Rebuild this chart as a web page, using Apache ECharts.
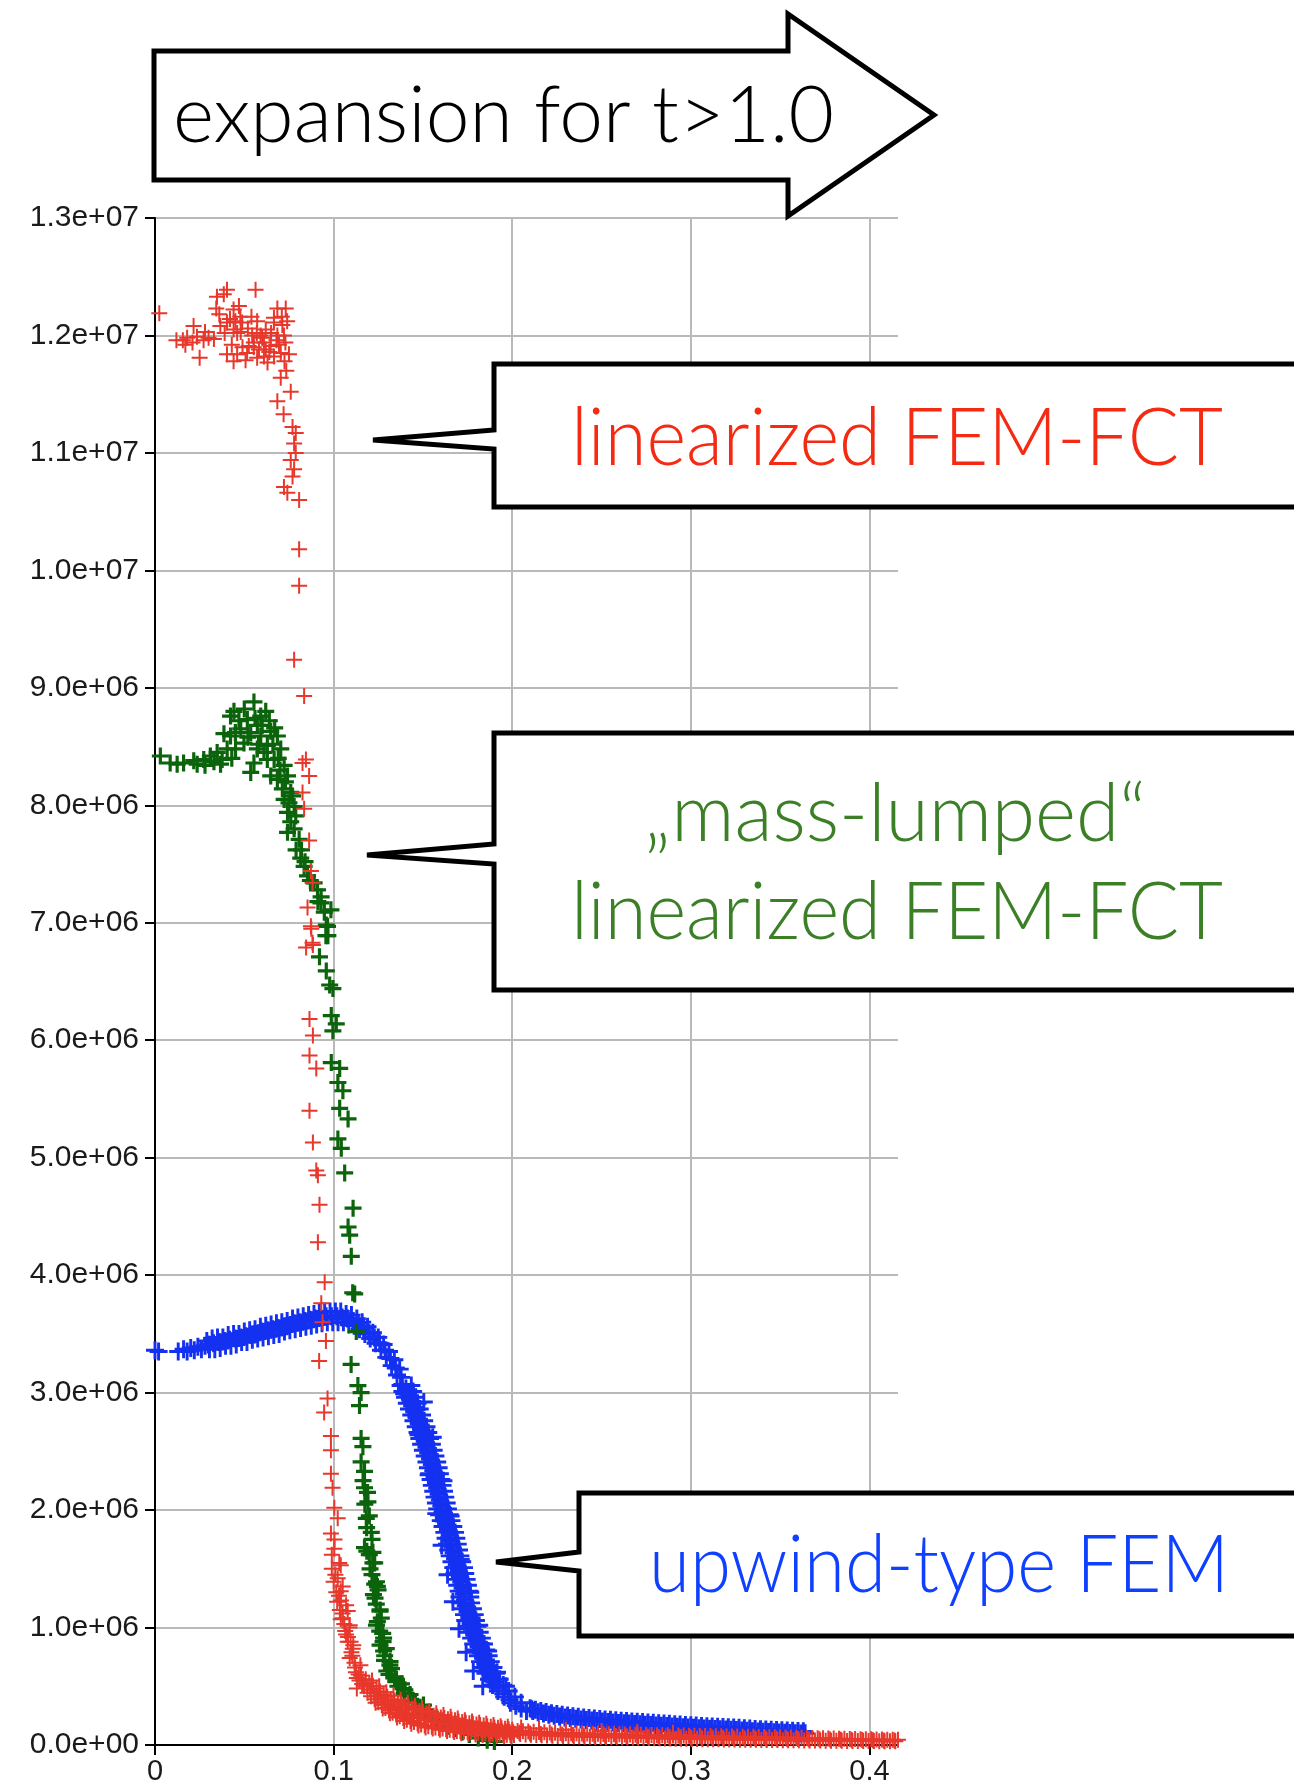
<!DOCTYPE html>
<html><head><meta charset="utf-8">
<script src="https://cdn.jsdelivr.net/npm/echarts@6/dist/echarts.min.js"></script>
<style>html,body{margin:0;padding:0;background:#fff}#c{width:1294px;height:1786px}</style>
</head><body><div id="c"></div>
<script>
// ---------- tick labels ----------
const xTickLabels = ['0', '0.1', '0.2', '0.3', '0.4'];
const yTickLabels = ['0.0e+00','1.0e+06','2.0e+06','3.0e+06','4.0e+06','5.0e+06','6.0e+06',
  '7.0e+06','8.0e+06','9.0e+06','1.0e+07','1.1e+07','1.2e+07','1.3e+07'];

// ---------- annotation texts ----------
const headerText = 'expansion for t>1.0';
const calloutRed = 'linearized FEM-FCT';
const calloutGreen = ['„mass-lumped“', 'linearized FEM-FCT'];
const calloutBlue = 'upwind-type FEM';

// y values below are in units of 10^6
const MEGA = 1e6;

// ---------- upwind-type FEM (blue) ----------
const upwindFEM = [
[0,3.36],[0.002,3.35],[0.013,3.35],[0.016,3.37],[0.018,3.35],[0.020,3.38],[0.022,3.36],[0.024,3.39],[0.026,3.37],[0.028,3.40],
[0.029,3.44],[0.0305,3.37],[0.0298,3.41],[0.032,3.46],[0.0335,3.37],[0.0328,3.42],[0.035,3.47],[0.0365,3.38],[0.0358,3.43],
[0.038,3.47],[0.0395,3.40],[0.0388,3.44],[0.041,3.49],[0.0425,3.40],[0.0418,3.45],[0.044,3.50],[0.0455,3.41],[0.0448,3.46],
[0.047,3.50],[0.0485,3.43],[0.0478,3.47],[0.050,3.52],[0.0515,3.43],[0.0508,3.48],[0.053,3.53],[0.0545,3.45],[0.0538,3.49],
[0.056,3.54],[0.0575,3.46],[0.0568,3.50],[0.059,3.56],[0.0605,3.47],[0.0598,3.52],[0.062,3.57],[0.0635,3.48],[0.0628,3.53],
[0.065,3.58],[0.0665,3.49],[0.0658,3.54],[0.068,3.59],[0.0695,3.50],[0.0688,3.55],[0.071,3.60],[0.0725,3.52],[0.0718,3.56],
[0.074,3.61],[0.0755,3.53],[0.0748,3.57],[0.077,3.63],[0.0785,3.54],[0.0778,3.59],[0.080,3.64],[0.0815,3.55],[0.0808,3.60],
[0.083,3.65],[0.0845,3.56],[0.0838,3.61],[0.086,3.66],[0.0875,3.57],[0.0868,3.62],[0.089,3.67],[0.0905,3.58],[0.0898,3.63],
[0.092,3.68],[0.0935,3.59],[0.0928,3.64],[0.095,3.69],[0.0965,3.60],[0.0958,3.65],[0.098,3.69],[0.0995,3.60],[0.0988,3.65],
[0.101,3.69],[0.1025,3.60],[0.1018,3.65],[0.104,3.69],[0.1055,3.60],[0.1048,3.64],[0.107,3.67],[0.1085,3.58],[0.1078,3.63],
[0.110,3.66],[0.1115,3.57],[0.1108,3.61],[0.113,3.63],[0.1145,3.54],[0.1138,3.59],[0.116,3.60],[0.1175,3.50],[0.1168,3.55],
[0.119,3.56],[0.1205,3.46],[0.1198,3.51],[0.122,3.51],[0.1235,3.42],[0.1228,3.47],[0.125,3.47],[0.1265,3.36],[0.1258,3.42],
[0.128,3.41],[0.1295,3.30],[0.1288,3.36],[0.131,3.35],[0.1325,3.23],[0.1318,3.29],[0.134,3.28],[0.1355,3.15],[0.1348,3.21],
[0.137,3.20],[0.1385,3.07],[0.1378,3.13],
[0.1375,3.06],[0.1405,3.035],[0.1435,3.06],[0.1385,3.01],[0.1415,2.985],[0.1445,3.01],[0.140,2.96],[0.143,2.935],[0.146,2.96],
[0.141,2.91],[0.144,2.885],[0.147,2.91],[0.1422,2.86],[0.1452,2.835],[0.1482,2.86],[0.1435,2.81],[0.1465,2.785],[0.1495,2.81],
[0.1447,2.76],[0.1477,2.735],[0.1507,2.76],[0.146,2.71],[0.149,2.685],[0.152,2.71],[0.147,2.66],[0.150,2.635],[0.153,2.66],
[0.148,2.61],[0.151,2.585],[0.154,2.61],[0.149,2.56],[0.152,2.535],[0.155,2.56],[0.150,2.51],[0.153,2.485],[0.156,2.51],
[0.151,2.46],[0.154,2.435],[0.157,2.46],[0.152,2.41],[0.155,2.385],[0.158,2.41],[0.1528,2.36],[0.1558,2.335],[0.1588,2.36],
[0.1535,2.31],[0.1565,2.285],[0.1595,2.31],[0.1543,2.26],[0.1573,2.235],[0.1603,2.26],[0.155,2.21],[0.158,2.185],[0.161,2.21],
[0.1558,2.16],[0.1588,2.135],[0.1618,2.16],[0.1565,2.11],[0.1595,2.085],[0.1625,2.11],[0.1573,2.06],[0.1603,2.035],[0.1633,2.06],
[0.158,2.01],[0.161,1.985],[0.164,2.01],[0.159,1.96],[0.162,1.935],[0.165,1.96],[0.160,1.91],[0.163,1.885],[0.166,1.91],
[0.161,1.86],[0.164,1.835],[0.167,1.86],[0.162,1.81],[0.165,1.785],[0.168,1.81],[0.1627,1.76],[0.1657,1.735],[0.1687,1.76],
[0.1635,1.71],[0.1665,1.685],[0.1695,1.71],[0.1642,1.66],[0.1672,1.635],[0.1702,1.66],[0.165,1.61],[0.168,1.585],[0.171,1.61],
[0.166,1.56],[0.169,1.535],[0.172,1.56],[0.167,1.51],[0.170,1.485],[0.173,1.51],[0.1677,1.46],[0.1707,1.435],[0.1737,1.46],
[0.1685,1.41],[0.1715,1.385],[0.1745,1.41],[0.1692,1.36],[0.1722,1.335],[0.1752,1.36],[0.170,1.31],[0.173,1.285],[0.176,1.31],
[0.1705,1.26],[0.1735,1.235],[0.1765,1.26],[0.171,1.21],[0.174,1.185],[0.177,1.21],[0.172,1.16],[0.175,1.135],[0.178,1.16],
[0.173,1.11],[0.176,1.085],[0.179,1.11],[0.1737,1.06],[0.1767,1.035],[0.1797,1.06],[0.1745,1.01],[0.1775,0.985],[0.1805,1.01],
[0.1758,0.96],[0.1788,0.935],[0.1818,0.96],[0.177,0.91],[0.180,0.885],[0.183,0.91],[0.1782,0.86],[0.1812,0.835],[0.1842,0.86],
[0.1795,0.81],[0.1825,0.785],[0.1855,0.81],[0.1808,0.76],[0.1838,0.735],[0.1868,0.76],[0.182,0.71],[0.185,0.685],[0.188,0.71],
[0.1835,0.66],[0.1865,0.635],[0.1895,0.66],[0.185,0.61],[0.188,0.585],[0.191,0.61],[0.187,0.56],[0.190,0.535],[0.193,0.56],
[0.189,0.51],[0.192,0.485],[0.195,0.51],[0.192,0.46],[0.195,0.435],[0.198,0.46],[0.1955,0.41],[0.1985,0.385],[0.2015,0.41],
[0.199,0.36],[0.202,0.335],[0.205,0.36],[0.205,0.31],[0.208,0.29],[0.211,0.305],
[0.1395,2.99],[0.1475,2.64],[0.1532,2.30],[0.1575,1.97],[0.1605,1.70],[0.1638,1.45],[0.1668,1.22],[0.1702,0.99],[0.1742,0.79],
[0.1782,0.63],[0.1835,0.50],[0.1505,2.92],[0.1555,2.62],[0.1615,2.25],[0.1655,1.95],[0.1712,1.58],[0.1765,1.30],[0.1815,1.02],
[0.1865,0.80],[0.1915,0.62],[0.1965,0.50],
[0.210,0.312],[0.2115,0.290],[0.213,0.300],[0.2145,0.278],[0.216,0.290],[0.2175,0.268],[0.219,0.280],[0.2205,0.258],
[0.222,0.271],[0.2235,0.249],[0.225,0.264],[0.2265,0.242],[0.228,0.257],[0.2295,0.235],[0.231,0.251],[0.2325,0.229],
[0.234,0.245],[0.2355,0.223],[0.237,0.240],[0.2385,0.218],[0.240,0.235],[0.2415,0.213],[0.243,0.230],[0.2445,0.208],
[0.246,0.226],[0.2475,0.204],[0.249,0.222],[0.2505,0.200],[0.252,0.218],[0.2535,0.196],[0.255,0.214],[0.2565,0.192],
[0.258,0.210],[0.2595,0.188],[0.261,0.207],[0.2625,0.185],[0.264,0.204],[0.2655,0.182],[0.267,0.201],[0.2685,0.179],
[0.270,0.198],[0.2715,0.176],[0.273,0.195],[0.2745,0.173],[0.276,0.192],[0.2775,0.170],[0.279,0.189],[0.2805,0.167],
[0.282,0.186],[0.2835,0.164],[0.285,0.183],[0.2865,0.161],[0.288,0.180],[0.2895,0.158],[0.291,0.177],[0.2925,0.155],
[0.294,0.174],[0.2955,0.152],[0.297,0.171],[0.2985,0.149],[0.300,0.168],[0.3015,0.146],[0.303,0.165],[0.3045,0.143],
[0.306,0.162],[0.3075,0.140],[0.309,0.160],[0.3105,0.138],[0.312,0.158],[0.3135,0.136],[0.315,0.156],[0.3165,0.134],
[0.318,0.154],[0.3195,0.132],[0.321,0.152],[0.3225,0.130],[0.324,0.149],[0.3255,0.127],[0.327,0.146],[0.3285,0.124],
[0.330,0.143],[0.3315,0.121],[0.333,0.140],[0.3345,0.118],[0.336,0.137],[0.3375,0.115],[0.339,0.134],[0.3405,0.112],
[0.342,0.132],[0.3435,0.110],[0.345,0.130],[0.3465,0.108],[0.348,0.128],[0.3495,0.106],[0.351,0.126],[0.3525,0.104],
[0.354,0.124],[0.3555,0.102],[0.357,0.122],[0.3585,0.100],[0.360,0.119],[0.3615,0.097],[0.363,0.116],[0.364,0.100]
];

// ---------- "mass-lumped" linearized FEM-FCT (green) ----------
const massLumpedFCT = [
[0.003,8.42],[0.0085,8.36],[0.0124,8.35],[0.016,8.36],[0.0217,8.38],[0.0236,8.35],[0.0273,8.39],[0.028,8.34],[0.031,8.42],[0.033,8.37],
[0.0348,8.45],[0.0367,8.35],[0.0376,8.39],[0.0404,8.48],[0.043,8.40],[0.0423,8.59],[0.0386,8.61],[0.0423,8.76],[0.0442,8.80],
[0.045,8.62],[0.0451,8.48],[0.047,8.72],[0.048,8.65],[0.0498,8.53],[0.050,8.82],[0.0517,8.73],[0.052,8.58],[0.0536,8.62],
[0.0536,8.28],[0.0554,8.88],[0.0554,8.36],[0.056,8.74],[0.0573,8.68],[0.0573,8.48],[0.058,8.52],[0.0592,8.59],[0.0592,8.76],
[0.060,8.68],[0.061,8.45],[0.062,8.80],[0.0629,8.51],[0.0629,8.39],[0.064,8.72],[0.0648,8.63],[0.0648,8.25],[0.066,8.52],
[0.0667,8.39],[0.067,8.66],[0.0685,8.59],[0.0685,8.22],[0.069,8.40],[0.070,8.30],[0.0704,8.48],[0.0713,8.14],[0.0723,8.34],
[0.0723,8.05],[0.073,8.20],[0.0742,8.25],[0.0742,7.94],[0.0742,7.77],[0.075,8.02],[0.076,8.11],[0.076,7.86],[0.077,8.08],
[0.0779,7.99],[0.0779,7.80],[0.0788,7.91],[0.079,7.62],[0.0807,7.71],[0.0816,7.55],[0.082,7.62],[0.0835,7.48],[0.084,7.52],
[0.0854,7.40],[0.087,7.36],[0.0891,7.34],[0.091,7.28],[0.0912,7.18],[0.093,7.22],[0.0929,7.17],[0.0948,7.09],[0.0985,7.11],
[0.0959,6.98],[0.0966,6.97],[0.0957,6.89],[0.0968,6.89],[0.0921,6.71],[0.0959,6.59],[0.0978,6.47],[0.0996,6.44],[0.0987,6.21],
[0.1015,6.14],[0.0996,6.08],[0.0987,5.81],[0.1034,5.76],[0.1024,5.64],[0.1052,5.57],[0.1034,5.42],[0.1081,5.33],[0.1024,5.16],
[0.1043,5.08],[0.1062,4.87],[0.1109,4.57],[0.1081,4.41],[0.109,4.34],[0.1099,4.16],[0.1118,3.84],[0.1107,3.85],[0.1127,3.52],
[0.1098,3.24],[0.1136,3.06],[0.1154,3.00],[0.1145,2.89],[0.1154,2.61],[0.1164,2.54],[0.1154,2.41],[0.1173,2.33],[0.1173,2.19],
[0.1192,2.07],[0.1183,1.93],[0.1211,1.81],[0.1173,1.68],[0.122,1.64],[0.1186,1.65],[0.122,1.55],[0.1204,1.50],[0.124,1.39],
[0.123,1.37],[0.1249,1.32],[0.1223,1.28],[0.1239,1.20],[0.126,1.14],[0.1267,1.08],[0.124,1.02],[0.1258,0.97],[0.128,0.91],
[0.1277,0.88],[0.128,0.80],[0.1286,0.76],[0.1316,0.71],[0.1324,0.65],[0.1298,0.63],[0.1352,0.56],[0.135,0.54],[0.139,0.48],
[0.1399,0.47],[0.1428,0.43],[0.1456,0.36],[0.1503,0.34],
[0.1165,2.25],[0.119,2.15],[0.1175,2.05],[0.120,1.95],[0.1185,1.85],[0.1215,1.75],[0.120,1.62],[0.123,1.55],[0.1215,1.45],
[0.1245,1.35],[0.1232,1.25],[0.126,1.15],[0.1245,1.05],[0.1275,0.95],[0.126,0.85],[0.1295,0.82],[0.1285,0.72],[0.1315,0.68],
[0.131,0.60],[0.1345,0.58],[0.136,0.50],[0.138,0.52],[0.1395,0.44],[0.142,0.42],[0.1445,0.38],[0.147,0.33],[0.149,0.30],
[0.152,0.27],[0.155,0.24],[0.158,0.22],[0.161,0.19],[0.164,0.16],[0.168,0.14],[0.172,0.11],[0.176,0.09],[0.181,0.06],
[0.186,0.04],[0.19,0.03]
];

// ---------- linearized FEM-FCT (red) ----------
const linearizedFCT = [
[0.0024,12.19],[0.012,11.96],[0.0156,11.96],[0.017,11.92],[0.018,11.98],[0.021,11.94],[0.0216,12.08],[0.0235,11.99],[0.025,11.81],
[0.0272,11.96],[0.028,12.03],[0.030,11.98],[0.033,11.97],[0.0347,12.33],[0.0403,12.39],[0.0385,12.35],[0.0343,12.23],[0.036,12.18],
[0.0366,12.08],[0.039,12.02],[0.0403,12.11],[0.042,12.14],[0.044,12.22],[0.047,12.25],[0.044,12.05],[0.046,12.02],[0.043,11.92],
[0.0488,12.11],[0.048,12.03],[0.049,11.90],[0.0403,11.84],[0.044,11.78],[0.046,11.84],[0.0516,11.85],[0.052,12.06],[0.054,12.16],
[0.0525,11.91],[0.0563,12.39],[0.0553,11.94],[0.0572,12.12],[0.057,12.02],[0.0582,11.88],[0.060,11.98],[0.061,11.82],[0.062,12.05],
[0.063,11.77],[0.0591,12.00],[0.0544,12.00],[0.061,11.94],[0.064,11.86],[0.065,12.02],[0.0647,11.91],[0.0666,11.82],[0.0685,12.23],
[0.0732,12.23],[0.0666,12.11],[0.0713,12.09],[0.0685,12.00],[0.068,11.96],[0.0694,11.92],[0.0704,11.85],[0.071,12.16],[0.073,11.94],
[0.074,12.12],[0.075,11.84],[0.0666,12.15],[0.0722,12.00],[0.0478,12.16],[0.045,12.12],[0.0553,11.90],[0.0572,11.81],[0.0507,11.79],
[0.062,11.88],[0.0725,11.78],[0.0735,11.70],
[0.0704,11.64],[0.076,11.52],[0.0685,11.44],[0.072,11.33],[0.077,11.22],[0.0788,11.17],[0.0779,11.08],[0.0788,11.00],
[0.076,10.94],[0.0779,10.86],[0.077,10.80],[0.0722,10.71],[0.0741,10.66],[0.0807,10.60],[0.0807,10.18],[0.0807,9.87],
[0.0779,9.24],[0.0835,8.93],[0.0845,8.39],[0.0826,8.36],[0.0863,8.25],[0.0826,8.11],[0.0835,7.97],[0.0863,7.70],
[0.0873,7.44],[0.0882,7.34],[0.0854,7.13],[0.0873,6.97],[0.0882,6.83],[0.0875,6.95],[0.0846,6.79],[0.0884,6.81],
[0.0865,6.18],[0.0884,6.04],[0.0865,5.87],[0.0903,5.76],[0.0865,5.40],[0.0884,5.13],[0.0903,4.89],[0.0912,4.85],
[0.0921,4.60],[0.0912,4.28],[0.095,3.94],[0.0931,3.76],[0.0938,3.60],[0.0957,3.44],[0.0919,3.27],[0.0966,2.95],
[0.0947,2.83],[0.0985,2.63],[0.0985,2.51],[0.0985,2.31],[0.0994,2.19],[0.1004,2.02],[0.1023,1.93],[0.0985,1.80],[0.1005,1.75],
[0.0990,1.62],[0.1004,1.67],[0.104,1.53],[0.1032,1.55],[0.099,1.50],[0.101,1.45],[0.100,1.39],[0.1023,1.42],[0.104,1.31],
[0.1015,1.30],[0.103,1.27],[0.1051,1.35],[0.102,1.22],[0.1041,1.23],[0.107,1.19],[0.1035,1.15],[0.105,1.12],[0.1079,1.14],
[0.104,1.07],[0.1051,1.08],[0.106,1.03],[0.109,1.02],[0.1089,1.00],[0.1065,0.97],[0.107,0.94],[0.108,0.92],[0.1079,0.88],
[0.1095,0.88],[0.111,0.85],[0.1107,0.82],[0.110,0.79],[0.1105,0.76],[0.109,0.74],[0.1117,0.70],[0.115,0.68],[0.112,0.66],
[0.1125,0.62],[0.114,0.60],[0.113,0.57],[0.1154,0.59],[0.1145,0.55],[0.116,0.52],[0.117,0.50],[0.113,0.48],
[0.118,0.56],[0.1185,0.50],[0.119,0.445],[0.120,0.53],[0.1205,0.47],[0.121,0.415],[0.122,0.505],[0.1225,0.445],[0.123,0.39],
[0.124,0.48],[0.1245,0.42],[0.125,0.365],[0.126,0.455],[0.1265,0.395],[0.127,0.34],[0.128,0.43],[0.1285,0.37],[0.129,0.315],
[0.130,0.41],[0.1305,0.35],[0.131,0.295],[0.132,0.39],[0.1325,0.33],[0.133,0.275],[0.134,0.375],[0.1345,0.315],[0.135,0.26],
[0.136,0.36],[0.1365,0.30],[0.137,0.245],[0.138,0.345],[0.1385,0.285],[0.139,0.23],[0.140,0.33],[0.1405,0.27],[0.141,0.215],
[0.142,0.32],[0.1425,0.26],[0.143,0.205],[0.144,0.31],[0.1445,0.25],[0.145,0.195],[0.146,0.30],[0.1465,0.24],[0.147,0.185],
[0.148,0.29],[0.1485,0.23],[0.149,0.175],[0.150,0.28],[0.1505,0.22],[0.151,0.165],[0.152,0.27],[0.1525,0.212],[0.153,0.16],
[0.154,0.26],[0.1545,0.205],[0.155,0.155],[0.156,0.25],[0.1565,0.198],[0.157,0.15],[0.158,0.24],[0.1585,0.191],[0.159,0.145],
[0.160,0.235],[0.1605,0.185],[0.161,0.14],[0.162,0.23],[0.1625,0.179],[0.163,0.135],[0.164,0.22],[0.1645,0.173],[0.165,0.13],
[0.166,0.215],[0.1665,0.168],[0.167,0.125],[0.168,0.21],[0.1685,0.163],[0.169,0.12],[0.170,0.20],[0.1705,0.158],[0.171,0.118],
[0.172,0.195],[0.1725,0.153],[0.173,0.115],[0.174,0.19],[0.1745,0.149],[0.175,0.112],[0.176,0.185],[0.1765,0.145],[0.177,0.11],
[0.178,0.18],[0.1785,0.141],[0.179,0.108],[0.180,0.175],[0.1805,0.137],[0.181,0.105],[0.182,0.17],[0.1825,0.133],[0.183,0.102],
[0.184,0.165],[0.1845,0.130],[0.185,0.10],[0.186,0.16],[0.1865,0.127],[0.187,0.098],[0.188,0.155],[0.1885,0.124],[0.189,0.096],
[0.190,0.15],[0.1905,0.121],[0.191,0.094],[0.192,0.146],[0.1925,0.118],[0.193,0.092],[0.194,0.142],[0.1945,0.115],[0.195,0.09],
[0.196,0.138],[0.1965,0.112],[0.197,0.088],[0.198,0.134],[0.1985,0.110],[0.199,0.086],[0.200,0.13],[0.2005,0.108],[0.201,0.085],
[0.1215,0.55],[0.1235,0.36],[0.1255,0.50],[0.1275,0.31],[0.1295,0.45],[0.1315,0.27],[0.1335,0.42],[0.1355,0.235],
[0.1375,0.385],[0.1395,0.205],[0.1415,0.36],[0.1435,0.18],[0.1455,0.335],[0.1475,0.165],[0.1495,0.31],[0.1515,0.15],
[0.1535,0.29],[0.1555,0.14],[0.1575,0.27],[0.1595,0.13],[0.1615,0.255],[0.1635,0.12],[0.1655,0.24],[0.1675,0.11],
[0.1695,0.225],[0.1715,0.10],[0.1735,0.21],[0.1755,0.095],[0.1775,0.20],[0.1795,0.09],[0.1815,0.19],[0.1835,0.085],
[0.1855,0.18],[0.1875,0.08],[0.1895,0.17],[0.1915,0.078],[0.1935,0.16],[0.1955,0.075],[0.1975,0.155],[0.1995,0.072],
[0.203,0.12],[0.2045,0.093],[0.206,0.117],[0.2075,0.09],[0.209,0.114],[0.2105,0.087],[0.212,0.112],[0.2135,0.085],[0.215,0.11],
[0.2165,0.083],[0.218,0.108],[0.2195,0.081],[0.221,0.106],[0.2225,0.079],[0.224,0.104],[0.2255,0.077],[0.227,0.102],[0.2285,0.075],
[0.230,0.101],[0.2315,0.074],[0.233,0.10],[0.2345,0.073],[0.236,0.099],[0.2375,0.072],[0.239,0.098],[0.2405,0.071],[0.242,0.097],
[0.2435,0.07],[0.245,0.096],[0.2465,0.069],[0.248,0.095],[0.2495,0.068],[0.251,0.094],[0.2525,0.067],[0.254,0.093],[0.2555,0.066],
[0.257,0.092],[0.2585,0.065],[0.260,0.091],[0.2615,0.064],[0.263,0.09],[0.2645,0.063],[0.266,0.089],[0.2675,0.062],[0.269,0.088],
[0.2705,0.061],[0.272,0.087],[0.2735,0.06],[0.275,0.086],[0.2765,0.059],[0.278,0.085],[0.2795,0.058],[0.281,0.084],[0.2825,0.057],
[0.284,0.083],[0.2855,0.056],[0.287,0.082],[0.2885,0.055],[0.290,0.081],[0.2915,0.054],[0.293,0.081],[0.2945,0.054],[0.296,0.08],
[0.2975,0.053],[0.299,0.079],[0.3005,0.052],[0.302,0.078],[0.3035,0.051],[0.305,0.077],[0.3065,0.05],[0.308,0.077],[0.3095,0.05],
[0.311,0.076],[0.3125,0.049],[0.314,0.075],[0.3155,0.048],[0.317,0.074],[0.3185,0.047],[0.320,0.073],[0.3215,0.046],[0.323,0.072],
[0.3245,0.046],[0.326,0.072],[0.3275,0.045],[0.329,0.071],[0.3305,0.045],[0.332,0.07],[0.3335,0.044],[0.335,0.07],[0.3365,0.044],
[0.338,0.069],[0.3395,0.043],[0.341,0.068],[0.3425,0.043],[0.344,0.067],[0.3455,0.042],[0.347,0.066],[0.3485,0.042],[0.350,0.065],
[0.3515,0.041],[0.353,0.064],[0.3545,0.041],[0.356,0.063],[0.3575,0.04],[0.359,0.062],[0.3605,0.04],[0.362,0.061],[0.3635,0.039],
[0.365,0.06],[0.3665,0.039],[0.368,0.059],[0.3695,0.038],[0.371,0.058],[0.3725,0.038],[0.374,0.057],[0.3755,0.037],[0.377,0.056],
[0.3785,0.037],[0.380,0.055],[0.3815,0.036],[0.383,0.054],[0.3845,0.036],[0.386,0.053],[0.3875,0.035],[0.389,0.052],[0.3905,0.035],
[0.392,0.051],[0.3935,0.034],[0.395,0.05],[0.3965,0.034],[0.398,0.049],[0.3995,0.033],[0.401,0.048],[0.4025,0.033],[0.404,0.047],
[0.4055,0.032],[0.407,0.046],[0.4085,0.032],[0.410,0.045],[0.4115,0.031],[0.413,0.045],[0.4145,0.031],[0.416,0.044],
[0.204,0.104],[0.210,0.098],[0.216,0.094],[0.222,0.090],[0.228,0.087],[0.234,0.085],[0.240,0.083],[0.246,0.081],[0.252,0.079],
[0.258,0.077],[0.264,0.075],[0.270,0.073],[0.276,0.071],[0.282,0.069],[0.288,0.067],[0.294,0.066],[0.300,0.064],[0.306,0.062],
[0.312,0.061],[0.318,0.059],[0.324,0.058],[0.330,0.057],[0.336,0.056],[0.342,0.055],[0.348,0.054],[0.354,0.052],[0.360,0.051],
[0.366,0.050],[0.372,0.048],[0.378,0.047],[0.384,0.045],[0.390,0.044],[0.396,0.042],[0.402,0.041],[0.408,0.039],[0.414,0.038],
[0.205,0.15],[0.215,0.14],[0.230,0.13],[0.250,0.12],[0.270,0.11],[0.290,0.105]
];

// ---------- rendering ----------
const toSeries = arr => arr.map(p => [p[0], p[1] * MEGA]);

const PLUS_THIN = 'path://M7,0H9V7H16V9H9V16H7V9H0V7H7Z';
const PLUS_MED = 'path://M6.7,0H9.3V6.7H16V9.3H9.3V16H6.7V9.3H0V6.7H6.7Z';
const PLUS_BOLD = 'path://M6.5,0H9.5V6.5H16V9.5H9.5V16H6.5V9.5H0V6.5H6.5Z';

const LABEL_FONT = "'Liberation Sans', Arial, sans-serif";
const CALLOUT_FAMILY = "Lato, 'Open Sans', sans-serif";

const measureCtx = document.createElement('canvas').getContext('2d');
function fitScale(text, font, targetWidth) {
  measureCtx.font = font;
  const w = measureCtx.measureText(text).width;
  return w > 0 ? targetWidth / w : 1;
}

function callout(boxLeft, boxTop, boxBottom, baseTop, baseBottom, tipX, tipY) {
  return {
    type: 'polygon', z: 100,
    shape: { points: [[boxLeft, boxTop], [1330, boxTop], [1330, boxBottom], [boxLeft, boxBottom],
      [boxLeft, baseBottom], [tipX, tipY], [boxLeft, baseTop]] },
    style: { fill: '#ffffff', stroke: '#000000', lineWidth: 5, lineJoin: 'miter', miterLimit: 3 }
  };
}
function label(text, cx, baseline, size, color, targetWidth) {
  const font = '300 ' + size + 'px ' + CALLOUT_FAMILY;
  return {
    type: 'text', z: 101, x: cx, y: baseline - 0.334 * size,
    scaleX: fitScale(text, font, targetWidth), scaleY: 1,
    style: { text: text, fill: color, align: 'center', verticalAlign: 'middle', font: font }
  };
}

const headerFont = "300 78px Lato, 'Open Sans', sans-serif";

const chart = echarts.init(document.getElementById('c'), null, { renderer: 'canvas' });
chart.setOption({
  animation: false,
  backgroundColor: '#ffffff',
  grid: { left: 155, right: 396, top: 218, bottom: 39, containLabel: false },
  xAxis: {
    type: 'value', min: 0, max: 0.416, interval: 0.1,
    axisLine: { show: true, onZero: false, lineStyle: { color: '#000', width: 2 } },
    axisTick: { show: true, inside: false, length: 10, lineStyle: { color: '#000', width: 2 } },
    axisLabel: { show: true, margin: 12, fontSize: 29, color: '#1a1a1a', fontFamily: LABEL_FONT,
      showMaxLabel: false,
      formatter: function (v) { const i = Math.round(v / 0.1); return Math.abs(v - i * 0.1) < 1e-9 ? (xTickLabels[i] || '') : ''; } },
    splitLine: { show: true, showMaxLine: false, lineStyle: { color: '#b9b9b9', width: 2 } }
  },
  yAxis: {
    type: 'value', min: 0, max: 13e6, interval: 1e6,
    axisLine: { show: true, onZero: false, lineStyle: { color: '#000', width: 2 } },
    axisTick: { show: true, inside: false, length: 10, lineStyle: { color: '#000', width: 2 } },
    axisLabel: { show: true, margin: 16, fontSize: 30, color: '#1a1a1a', fontFamily: LABEL_FONT,
      formatter: function (v) { return yTickLabels[Math.round(v / 1e6)] || ''; } },
    splitLine: { show: true, lineStyle: { color: '#b9b9b9', width: 2 } }
  },
  series: [
    { name: calloutBlue, type: 'scatter', data: toSeries(upwindFEM), symbol: PLUS_MED, symbolSize: 18,
      itemStyle: { color: '#1430f0', opacity: 1 }, z: 2 },
    { name: calloutGreen.join(' '), type: 'scatter', data: toSeries(massLumpedFCT), symbol: PLUS_BOLD, symbolSize: 17,
      itemStyle: { color: '#0b640b', opacity: 1 }, z: 3 },
    { name: calloutRed, type: 'scatter', data: toSeries(linearizedFCT), symbol: PLUS_THIN, symbolSize: 16,
      itemStyle: { color: '#e8372b', opacity: 1 }, z: 4 }
  ],
  graphic: [
    { type: 'polygon', z: 100,
      shape: { points: [[154, 51], [788, 51], [788, 14], [934, 115], [788, 216], [788, 180], [154, 180]] },
      style: { fill: '#ffffff', stroke: '#000000', lineWidth: 5, lineJoin: 'miter', miterLimit: 3 } },
    { type: 'text', z: 101, x: 173, y: 143 - 0.334 * 78,
      scaleX: fitScale(headerText, headerFont, 661), scaleY: 1,
      style: { text: headerText, fill: '#000', align: 'left', verticalAlign: 'middle', font: headerFont } },
    callout(494, 364, 507, 430, 449, 373, 440),
    label(calloutRed, 897, 466, 80, '#f52a12', 652),
    callout(494, 733, 990, 844, 864, 367, 855),
    label(calloutGreen[0], 895, 842, 80, '#3b7f26', 502),
    label(calloutGreen[1], 897, 940, 80, '#3b7f26', 652),
    callout(579, 1493, 1636, 1552, 1571, 496, 1562),
    label(calloutBlue, 939, 1593, 80, '#1040ff', 580)
  ]
});
</script>
</body></html>
